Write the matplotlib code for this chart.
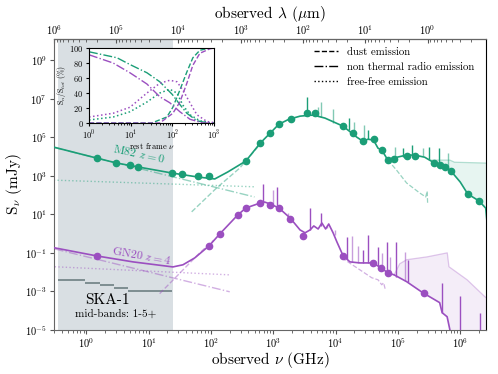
import numpy as np
import matplotlib
matplotlib.use("Agg")
import matplotlib.pyplot as plt
from matplotlib.lines import Line2D
from matplotlib.ticker import NullLocator, LogLocator

plt.rcParams['font.family'] = ['cmr10', 'DejaVu Serif']
plt.rcParams['mathtext.fontset'] = 'cm'
plt.rcParams['axes.formatter.use_mathtext'] = True

GREEN = '#1b9e77'
PURPLE = '#9b4fc0'

# ---- M82, z=0 (observed GHz, mJy) ----
m82_phot_nu = [1.48, 2.95, 5.0, 6.8, 23.4, 34, 62, 93, 363, 617, 891, 1230, 1905, 3470, 4680,
               1.32e4, 1.91e4, 2.75e4, 4.07e4, 5.5e4, 6.9e4, 8.7e4, 1.38e5, 1.86e5, 3.8e5, 4.7e5,
               5.6e5, 7.1e5, 1.32e6, 2.0e6]
m82_phot_S = [8300, 4600, 3600, 2900, 1400, 1230, 980, 980, 5900, 5.0e4, 1.66e5, 4.8e5, 8.7e5, 1.78e6,
              1.78e6, 3.8e5, 1.66e5, 6.3e4, 8.1e4, 2.2e4, 6.6e3, 7.4e3, 1.07e4, 1.07e4, 4.6e3, 3.6e3,
              2.9e3, 1.78e3, 115, 50]
m82_tot_nu = [0.30, 1.48, 3.09, 6.76, 23.4, 61.7, 115, 186, 363, 617, 891, 1230, 1780, 2690, 3890, 4470,
              6760, 1.32e4, 1.82e4, 2.19e4, 2.75e4, 3.31e4, 4.07e4, 4.79e4, 5.5e4, 6.17e4, 6.9e4, 8.3e4,
              1.38e5, 1.86e5, 2.69e5, 3.89e5, 4.68e5, 5.6e5, 7.1e5, 1.0e6, 1.32e6, 2.0e6, 2.57e6, 2.69e6]
m82_tot_S = [3.1e4, 8300, 4600, 2900, 1410, 870, 690, 1590, 5890, 5.0e4, 1.66e5, 4.8e5, 8.7e5, 1.26e6,
             1.41e6, 1.41e6, 1.0e6, 3.8e5, 1.66e5, 1.02e5, 6.3e4, 8.0e4, 7.2e4, 2.75e4, 2.19e4, 1.2e4,
             6.6e3, 8.3e3, 1.2e4, 1.2e4, 9.3e3, 4.6e3, 4.1e3, 2.9e3, 1.78e3, 480, 115, 50, 21, 4.1]
m82_stellar_nu = [3.2e5, 6.8e5, 8.1e5, 2.69e6]
m82_stellar_S = [6600, 6600, 5100, 4600]
m82_ff_nu = [0.30, 500]
m82_ff_S = [600, 270]
m82_sync_nu = [0.30, 500]
m82_sync_S = [3.0e4, 80]
m82_dust_lo_nu = [49, 123, 288, 620]
m82_dust_lo_S = [13.5, 234, 2500, 4.5e4]
m82_dust_hi_nu = [6.9e4, 9.5e4, 1.38e5, 2.24e5, 2.8e5, 2.95e5, 3.0e5]
m82_dust_hi_S = [6600, 2000, 427, 129, 80, 160, 39]
m82_line_nu = [3470, 5200, 5800, 9100, 1.63e4, 2.0e4, 2.9e4, 3.3e4, 8.9e4, 1.2e5, 1.66e5, 2.5e5,
               3.2e5, 4.6e5, 6.3e5]
m82_line_base = [1.6e6, 1.26e6, 1.1e6, 5.5e5, 2.3e5, 1.66e5, 8.1e4, 8.0e4, 7.4e3, 1.0e4, 1.2e4,
                 1.07e4, 7.4e3, 4.1e3, 2.2e3]
m82_line_top = [1.2e7, 3.7e6, 6.6e6, 2.9e6, 9.9e5, 6.1e5, 4.3e5, 2.35e5, 3.1e4, 2.75e4, 4.0e4,
                2.75e4, 3.1e4, 2.75e4, 1.5e4]
m82_line_strong = [1, 0, 0, 0, 1, 0, 0, 1, 0, 1, 1, 0, 1, 1, 0]

# ---- GN20, z=4 ----
gn20_phot_nu = [1.48, 93, 138, 269, 363, 617, 891, 1230, 1860, 2950, 1.32e4, 3.98e4, 5.37e4, 6.9e4, 2.6e5]
gn20_phot_S = [0.069, 0.23, 0.95, 9.3, 21.4, 38.9, 30.9, 21.4, 5.8, 0.76, 0.069, 0.030, 0.0166,
               0.0091, 8.5e-4]
gn20_tot_nu = [0.31, 1.48, 5.6, 24.5, 35.5, 55, 93, 138, 269, 363, 617, 724, 891, 1230, 1860, 2690,
               3240, 3890, 4470, 5250, 6030, 6920, 7760, 9120, 1.05e4, 1.32e4, 1.70e4, 2.45e4,
               3.98e4, 5.37e4, 6.92e4, 8.7e4, 1.38e5, 2.51e5, 4.68e5, 5.13e5, 6.17e5, 7.1e5]
gn20_tot_S = [0.182, 0.069, 0.034, 0.0186, 0.024, 0.055, 0.23, 0.95, 9.3, 21.4, 38.9, 43.7, 34.7,
              21.4, 6.5, 1.55, 1.10, 1.55, 2.5, 1.74, 3.55, 1.74, 3.16, 1.10, 0.37, 0.071, 0.034,
              0.030, 0.030, 0.0166, 0.0091, 0.0072, 0.0032, 8.5e-4, 2.6e-4, 7.8e-5, 4.8e-5, 5.6e-6]
gn20_stellar_nu = [8.7e4, 1.07e5, 1.38e5, 2.95e5, 6.2e5, 6.6e5, 1.29e6, 2.5e6, 2.69e6]
gn20_stellar_S = [7.2e-3, 0.027, 0.044, 0.062, 0.1, 0.019, 4.0e-3, 5.2e-4, 4.4e-4]
gn20_ff_nu = [0.31, 200]
gn20_ff_S = [0.019, 0.0072]
gn20_sync_nu = [0.31, 200]
gn20_sync_S = [0.16, 9.5e-4]
gn20_dust_lo_nu = [15, 66, 110]
gn20_dust_lo_S = [7.6e-4, 0.1, 0.45]
gn20_dust_hi_nu = [1.26e4, 2.45e4, 3.8e4, 4.8e4, 5.5e4, 5.9e4, 6.3e4]
gn20_dust_hi_S = [0.055, 0.0132, 5.1e-3, 4.0e-3, 2.2e-3, 2.8e-3, 1.2e-3]
gn20_line_nu = [680, 980, 1150, 1700, 3890, 5800, 7200, 9800, 1.5e4, 1.82e4, 2.3e4, 2.75e4, 3.3e4,
                4.8e4, 5.5e4, 6.6e4, 7.4e4, 9.5e4, 1.29e5, 1.45e5, 5.2e5, 1.0e6, 2.1e6]
gn20_line_base = [44, 27, 24, 7.3, 1.55, 2.5, 1.9, 0.8, 0.049, 0.034, 0.030, 0.030, 0.030, 0.021,
                  0.0148, 0.0105, 0.0091, 5.7e-3, 3.5e-3, 3.2e-3, 7.8e-5, 1e-6, 1e-6]
gn20_line_top = [380, 182, 263, 12, 21, 11.8, 2.8, 1.55, 0.68, 0.76, 0.23, 0.14, 0.86, 0.2, 0.1,
                 0.37, 0.062, 0.37, 0.11, 0.044, 2.8e-3, 5.9e-4, 7.8e-5]
gn20_line_strong = [1, 0, 1, 0, 1, 1, 0, 0, 1, 0, 0, 1, 1, 1, 0, 1, 0, 1, 0, 1, 1, 1, 1]

# ---- SKA-1 mid bands ----
ska_lo = [0.35, 0.95, 1.65, 2.8, 4.6]
ska_hi = [0.95, 1.65, 2.8, 4.6, 24]
ska_S = [4.0e-3, 2.8e-3, 2.2e-3, 1.5e-3, 1.07e-3]
ska_span = (0.35, 24.5)

# ---- inset: fractions (%) vs rest frame frequency ----
m82_frac_sync_nu = [1, 4.7, 9.6, 24.6, 50, 100, 150, 223, 389, 676, 1000]
m82_frac_sync = [95, 87, 78, 67, 55, 38, 25, 13, 3, 0.3, 0]
m82_frac_ff_nu = [1, 3.8, 9.6, 24.6, 50, 87, 129, 179, 265, 458, 800, 1000]
m82_frac_ff = [4, 8, 15, 28, 40, 45, 40, 24, 11, 3, 0.3, 0]
m82_frac_dust_nu = [1, 32, 74, 103, 152, 223, 311, 458, 800, 1000]
m82_frac_dust = [0, 0, 8, 21, 44, 68, 87, 97, 100, 100]
gn20_frac_sync_nu = [1, 3.8, 9.6, 24.6, 50, 87, 152, 265, 540, 1000]
gn20_frac_sync = [91, 80, 67, 52, 35, 27, 15, 5, 0, 0]
gn20_frac_ff_nu = [1, 3.8, 9.6, 24.6, 50, 87, 129, 179, 265, 389, 676, 1000]
gn20_frac_ff = [8, 13, 21, 40, 53, 57, 55, 44, 27, 11, 2, 0.5]
gn20_frac_dust_nu = [1, 50, 103, 152, 223, 311, 458, 800, 1000]
gn20_frac_dust = [0, 0, 13, 28, 53, 77, 93, 99, 100]


def nu2lam(x):
    x = np.asarray(x, dtype=float)
    with np.errstate(divide='ignore'):
        return 3e5 / x


fig = plt.figure(figsize=(4.98, 3.74), dpi=100)
ax = fig.add_axes([0.108, 0.118, 0.868, 0.778])
ax.set_xscale('log')
ax.set_yscale('log')
ax.set_xlim(0.3, 2.6e6)
ax.set_ylim(1e-5, 1.3e10)

ax.axvspan(*ska_span, color='#d9dfe3', zorder=0, lw=0)
ax.hlines(ska_S, ska_lo, ska_hi, color='#6e7f82', lw=1.2, zorder=2)


def draw_galaxy(col, tot_nu, tot_S, phot_nu, phot_S, st_nu, st_S, ff_nu, ff_S, sy_nu, sy_S,
                dlo_nu, dlo_S, dhi_nu, dhi_S, l_nu, l_base, l_top, l_strong, fill_bottom):
    tot_nu = np.array(tot_nu)
    tot_S = np.array(tot_S)
    # unextincted stellar envelope and fill
    m = (tot_nu >= st_nu[0]) & (tot_nu <= st_nu[-1])
    px = list(st_nu) + fill_bottom[0] + list(tot_nu[m][::-1])
    py = list(st_S) + fill_bottom[1] + list(tot_S[m][::-1])
    ax.fill(px, py, color=col, alpha=0.1, lw=0, zorder=1)
    ax.plot(st_nu, st_S, color=col, alpha=0.3, lw=0.9, zorder=2)
    # components
    ax.plot(ff_nu, ff_S, ':', color=col, alpha=0.45, lw=1.0, zorder=2)
    ax.plot(sy_nu, sy_S, '-.', color=col, alpha=0.45, lw=1.0, zorder=2)
    ax.plot(dlo_nu, dlo_S, '--', color=col, alpha=0.45, lw=1.0, zorder=2)
    ax.plot(dhi_nu, dhi_S, '--', color=col, alpha=0.45, lw=0.9, zorder=2)
    # emission lines
    strong = np.array(l_strong, dtype=bool)
    l_nu, l_base, l_top = np.array(l_nu), np.array(l_base), np.array(l_top)
    ax.vlines(l_nu[strong], l_base[strong], l_top[strong], color=col, lw=1.0, zorder=3)
    ax.vlines(l_nu[~strong], l_base[~strong], l_top[~strong], color=col, alpha=0.55, lw=1.0, zorder=3)
    # total SED and photometry
    ax.plot(tot_nu, tot_S, '-', color=col, lw=1.2, zorder=4)
    ax.plot(phot_nu, phot_S, 'o', color=col, ms=4.5, zorder=5)


draw_galaxy(GREEN, m82_tot_nu, m82_tot_S, m82_phot_nu, m82_phot_S, m82_stellar_nu, m82_stellar_S,
            m82_ff_nu, m82_ff_S, m82_sync_nu, m82_sync_S, m82_dust_lo_nu, m82_dust_lo_S,
            m82_dust_hi_nu, m82_dust_hi_S, m82_line_nu, m82_line_base, m82_line_top,
            m82_line_strong, ([], []))
draw_galaxy(PURPLE, gn20_tot_nu, gn20_tot_S, gn20_phot_nu, gn20_phot_S, gn20_stellar_nu,
            gn20_stellar_S, gn20_ff_nu, gn20_ff_S, gn20_sync_nu, gn20_sync_S, gn20_dust_lo_nu,
            gn20_dust_lo_S, gn20_dust_hi_nu, gn20_dust_hi_S, gn20_line_nu, gn20_line_base,
            gn20_line_top, gn20_line_strong, ([2.69e6], [1e-7]))

ax.text(6.9, 1.4e4, r'M82 $z=0$', color=GREEN, fontsize=8.5, rotation=-12,
        ha='center', va='center', zorder=6)
ax.text(7.8, 0.078, r'GN20 $z=4$', color=PURPLE, fontsize=8.5, rotation=-10,
        ha='center', va='center', zorder=6)
ax.text(2.2, 3.7e-4, 'SKA-1', fontsize=11, ha='center', va='center')
ax.text(3.0, 6.9e-5, 'mid-bands: 1-5+', fontsize=8, ha='center', va='center')

ax.set_yticks([10.0 ** k for k in range(-5, 10, 2)])
ax.yaxis.set_minor_locator(NullLocator())
ax.xaxis.set_major_locator(LogLocator(base=10, numticks=20))
ax.tick_params(labelsize=7.5, direction='out', color='#555555', length=3, pad=2)
ax.tick_params(axis='x', which='minor', color='#555555', length=2)
for s in ['left', 'bottom', 'top']:
    ax.spines[s].set_color('#666666')
ax.spines['right'].set_color('black')
ax.set_xlabel(r'observed $\nu$ (GHz)', fontsize=11, labelpad=0)
ax.set_ylabel(r'S$_\nu$ (mJy)', fontsize=11, labelpad=1)

sec = ax.secondary_xaxis('top', functions=(nu2lam, nu2lam))
sec.xaxis.set_major_locator(LogLocator(base=10, numticks=20))
sec.tick_params(which='both', direction='in', labelsize=7.5, color='#555555', pad=1.5)
sec.tick_params(which='major', length=3)
sec.tick_params(which='minor', length=2)
sec.set_xlabel(r'observed $\lambda$ ($\mu$m)', fontsize=11, labelpad=4)

handles = [Line2D([], [], color='k', ls='--', lw=1),
           Line2D([], [], color='k', ls='-.', lw=1),
           Line2D([], [], color='k', ls=':', lw=1)]
ax.legend(handles, ['dust emission', 'non thermal radio emission', 'free-free emission'],
          loc='upper left', bbox_to_anchor=(0.585, 0.998), frameon=False, fontsize=7.8,
          handlelength=2.2, handletextpad=0.8, labelspacing=0.5, borderpad=0.2)

# inset
axi = fig.add_axes([0.1787, 0.6711, 0.251, 0.2005])
axi.set_facecolor('white')
axi.set_xscale('log')
axi.set_xlim(1, 1000)
axi.set_ylim(0, 100)
for col, snu, s, fnu, f, dnu, d in [
        (GREEN, m82_frac_sync_nu, m82_frac_sync, m82_frac_ff_nu, m82_frac_ff,
         m82_frac_dust_nu, m82_frac_dust),
        (PURPLE, gn20_frac_sync_nu, gn20_frac_sync, gn20_frac_ff_nu, gn20_frac_ff,
         gn20_frac_dust_nu, gn20_frac_dust)]:
    axi.plot(snu, s, '-.', color=col, lw=1.0)
    axi.plot(fnu, f, ':', color=col, lw=1.1)
    axi.plot(dnu, d, '--', color=col, lw=1.0)
axi.set_yticks([0, 20, 40, 60, 80, 100])
axi.tick_params(labelsize=6, pad=1.5, length=2.5)
axi.tick_params(which='minor', length=1.5)
axi.set_xlabel(r'rest frame $\nu$', fontsize=6, labelpad=-0.5)
axi.set_ylabel(r'S$_{n}$/S$_{tot}$ (%)', fontsize=5.5, labelpad=1)

fig.savefig('out.png', dpi=100)
